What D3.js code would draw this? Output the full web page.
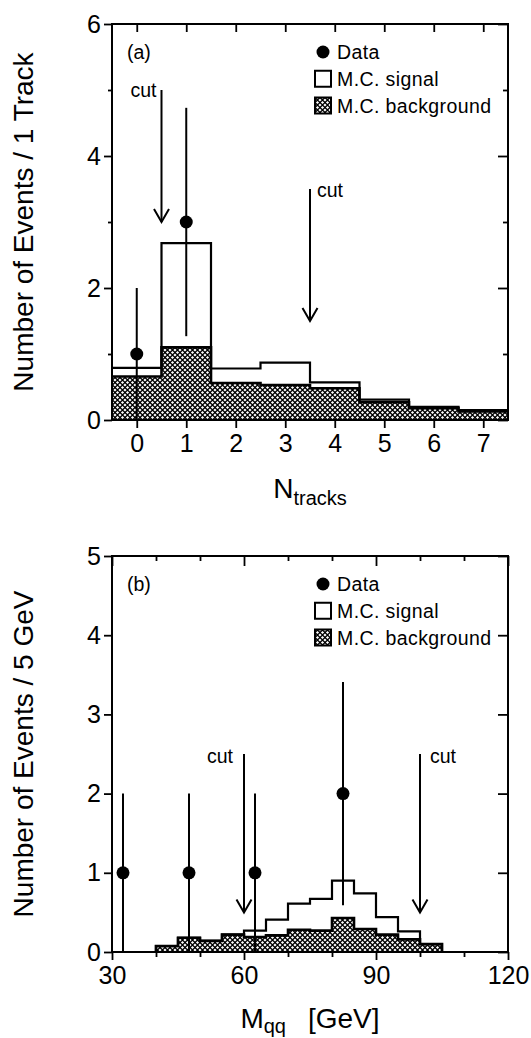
<!DOCTYPE html>
<html>
<head>
<meta charset="utf-8">
<script src="https://cdn.jsdelivr.net/npm/d3@7"></script>
<style>
  body { margin: 0; background: #fff; }
  text { font-family: "Liberation Sans", Arial, Helvetica, sans-serif; fill: #000; }
</style>
</head>
<body>
<div id="chart"></div>
<script>
// ---- panel (a): track multiplicity ----
const trkBins = [0, 1, 2, 3, 4, 5, 6, 7];
const trkSignal = [0.79, 2.68, 0.78, 0.87, 0.57, 0.31, 0.20, 0.15];     // MC signal stacked on background
const trkBackground = [0.66, 1.10, 0.56, 0.53, 0.48, 0.27, 0.18, 0.13];
const trkDataX = [0, 1];
const trkDataY = [1, 3];
const trkErrLo = [0, 1.27];
const trkErrHi = [2, 4.73];
const trkCuts = [0.5, 3.5];
const trkCutFrom = [5.0, 3.5];
const trkCutTo = [3.0, 1.5];

// ---- panel (b): di-jet mass, 5 GeV bins ----
const massBins = [40, 45, 50, 55, 60, 65, 70, 75, 80, 85, 90, 95, 100];
const massSignal = [0.075, 0.18, 0.14, 0.22, 0.27, 0.41, 0.61, 0.67, 0.90, 0.74, 0.44, 0.26, 0.10];
const massBackground = [0.075, 0.18, 0.14, 0.22, 0.19, 0.21, 0.28, 0.27, 0.43, 0.29, 0.22, 0.16, 0.10];
const massDataX = [32.5, 47.5, 62.5, 82.5];
const massDataY = [1, 1, 1, 2];
const massErrLo = [0, 0, 0, 0.59];
const massErrHi = [2, 2, 2, 3.41];
const massCuts = [60, 100];
const massCutFrom = [2.5, 2.5];
const massCutTo = [0.5, 0.5];

const legendLabels = ["Data", "M.C. signal", "M.C. background"];

const W = 531, H = 1038;
const left = 112, right = 508;

const svg = d3.select("#chart").append("svg")
  .attr("width", W).attr("height", H);

svg.append("rect").attr("width", W).attr("height", H).attr("fill", "#fff");

// cross-hatch: black with white diamond holes
const defs = svg.append("defs");
const pat = defs.append("pattern")
  .attr("id", "hatch")
  .attr("patternUnits", "userSpaceOnUse")
  .attr("width", 5).attr("height", 5);
pat.append("rect").attr("width", 5).attr("height", 5).attr("fill", "#000");
[[0, 0], [5, 0], [0, 5], [5, 5], [2.5, 2.5]].forEach(([cx, cy]) => {
  pat.append("path")
    .attr("d", `M${cx},${cy - 1.6}L${cx + 1.6},${cy}L${cx},${cy + 1.6}L${cx - 1.6},${cy}Z`)
    .attr("fill", "#fff");
});

function steps(lo, width, vals, closed) {
  const pts = [];
  if (closed) pts.push([lo[0], 0]);
  lo.forEach((e, i) => {
    pts.push([e, vals[i]]);
    pts.push([e + width, vals[i]]);
  });
  if (closed) pts.push([lo[lo.length - 1] + width, 0]);
  return pts;
}

function drawPanel(cfg) {
  const g = svg.append("g");
  const x = d3.scaleLinear().domain(cfg.xDomain).range([left, right]);
  const y = d3.scaleLinear().domain(cfg.yDomain).range([cfg.bottom, cfg.top]);

  const binLo = cfg.binLo;
  const bgPts = steps(binLo, cfg.binWidth, cfg.background, cfg.closed);
  const sigPts = steps(binLo, cfg.binWidth, cfg.signal, cfg.closed);

  g.append("path")
    .datum(bgPts)
    .attr("fill", "url(#hatch)")
    .attr("d", d3.area().x(d => x(d[0])).y0(y(0)).y1(d => y(d[1])));

  g.append("path")
    .datum(bgPts)
    .attr("fill", "none").attr("stroke", "#000").attr("stroke-width", 2.6)
    .attr("d", d3.line().x(d => x(d[0])).y(d => y(d[1])));

  g.append("path")
    .datum(sigPts)
    .attr("fill", "none").attr("stroke", "#000").attr("stroke-width", 2.2)
    .attr("d", d3.line().x(d => x(d[0])).y(d => y(d[1])));

  // error bars and points
  cfg.dataX.forEach((dx, i) => {
    g.append("line")
      .attr("x1", x(dx)).attr("x2", x(dx))
      .attr("y1", y(cfg.errLo[i])).attr("y2", y(cfg.errHi[i]))
      .attr("stroke", "#000").attr("stroke-width", 2);
    g.append("circle")
      .attr("cx", x(dx)).attr("cy", y(cfg.dataY[i])).attr("r", 6.5)
      .attr("fill", "#000");
  });

  // cut arrows
  cfg.cuts.forEach((c, i) => {
    const ax = x(c), y0 = y(cfg.cutFrom[i]), y1 = y(cfg.cutTo[i]);
    g.append("line")
      .attr("x1", ax).attr("x2", ax).attr("y1", y0).attr("y2", y1)
      .attr("stroke", "#000").attr("stroke-width", 2);
    g.append("path")
      .attr("d", `M${ax - 7.5},${y1 - 13}L${ax},${y1}L${ax + 7.5},${y1 - 13}`)
      .attr("fill", "none").attr("stroke", "#000").attr("stroke-width", 2);
    const lab = cfg.cutLabels[i];
    g.append("text")
      .attr("x", ax + lab.dx).attr("y", y(cfg.cutFrom[i]) + lab.dy)
      .attr("text-anchor", lab.anchor)
      .attr("font-size", 19.5)
      .text("cut");
  });

  // frame
  g.append("rect")
    .attr("x", left).attr("y", cfg.top)
    .attr("width", right - left).attr("height", cfg.bottom - cfg.top)
    .attr("fill", "none").attr("stroke", "#000").attr("stroke-width", 2);

  // axes
  const tickStyle = sel => {
    sel.select(".domain").remove();
    sel.selectAll(".tick line").attr("stroke", "#000").attr("stroke-width", 1.8);
  };

  g.append("g").attr("transform", `translate(0,${cfg.bottom})`)
    .call(d3.axisBottom(x).tickValues(cfg.xTicks).tickSize(8).tickPadding(6).tickFormat(d3.format("d")))
    .call(tickStyle)
    .call(s => s.selectAll("text").attr("font-size", 25).attr("font-family", "Liberation Sans, Arial, sans-serif"));
  g.append("g").attr("transform", `translate(0,${cfg.bottom})`)
    .call(d3.axisBottom(x).tickValues(cfg.xMinor).tickSize(5).tickFormat(""))
    .call(tickStyle);
  g.append("g").attr("transform", `translate(0,${cfg.top})`)
    .call(d3.axisTop(x).tickValues(cfg.xTicks).tickSize(-cfg.xTopMajor).tickFormat(""))
    .call(tickStyle);
  g.append("g").attr("transform", `translate(0,${cfg.top})`)
    .call(d3.axisTop(x).tickValues(cfg.xMinor).tickSize(-5).tickFormat(""))
    .call(tickStyle);

  g.append("g").attr("transform", `translate(${left},0)`)
    .call(d3.axisLeft(y).tickValues(cfg.yTicks).tickSize(8).tickPadding(3).tickFormat(d3.format("d")))
    .call(tickStyle)
    .call(s => s.selectAll("text").attr("font-size", 25).attr("font-family", "Liberation Sans, Arial, sans-serif"));
  g.append("g").attr("transform", `translate(${left},0)`)
    .call(d3.axisLeft(y).tickValues(cfg.yMinor).tickSize(4).tickFormat(""))
    .call(tickStyle);
  g.append("g").attr("transform", `translate(${right},0)`)
    .call(d3.axisRight(y).tickValues(cfg.yTicks).tickSize(-10).tickFormat(""))
    .call(tickStyle);
  g.append("g").attr("transform", `translate(${right},0)`)
    .call(d3.axisRight(y).tickValues(cfg.yMinor).tickSize(-5).tickFormat(""))
    .call(tickStyle);

  // panel tag
  g.append("text")
    .attr("x", 127).attr("y", cfg.top + 35)
    .attr("font-size", 19.5)
    .text(cfg.tag);

  // legend
  const rowY = [28, 54.75, 81.5].map(v => cfg.top + v);
  g.append("circle").attr("cx", 323).attr("cy", rowY[0]).attr("r", 6.5).attr("fill", "#000");
  g.append("rect").attr("x", 315).attr("y", rowY[1] - 8).attr("width", 16).attr("height", 16)
    .attr("fill", "#fff").attr("stroke", "#000").attr("stroke-width", 2);
  g.append("rect").attr("x", 315).attr("y", rowY[2] - 8).attr("width", 16).attr("height", 16)
    .attr("fill", "url(#hatch)").attr("stroke", "#000").attr("stroke-width", 2);
  legendLabels.forEach((t, i) => {
    g.append("text")
      .attr("x", 337).attr("y", rowY[i] + 7)
      .attr("font-size", 19.5)
      .attr("letter-spacing", 0.4)
      .text(t);
  });

  // y title
  g.append("text")
    .attr("transform", `translate(33,${(cfg.top + cfg.bottom) / 2}) rotate(-90)`)
    .attr("text-anchor", "middle")
    .attr("font-size", 28)
    .text(cfg.yTitle);

  // x title
  const xt = g.append("text")
    .attr("x", (left + right) / 2).attr("y", cfg.bottom + cfg.xTitleDy)
    .attr("text-anchor", "middle")
    .attr("font-size", 28);
  xt.append("tspan").text(cfg.xTitle[0]);
  xt.append("tspan").attr("font-size", 20).attr("dy", cfg.subDy).text(cfg.xTitle[1]);
  if (cfg.xTitle[2]) {
    xt.append("tspan").attr("dy", -cfg.subDy).attr("dx", 22).text(cfg.xTitle[2]);
  }
}

drawPanel({
  top: 24, bottom: 420,
  xDomain: [-0.5, 7.5], yDomain: [0, 6],
  binLo: trkBins.map(b => b - 0.5), binWidth: 1, closed: false,
  signal: trkSignal, background: trkBackground,
  dataX: trkDataX, dataY: trkDataY, errLo: trkErrLo, errHi: trkErrHi,
  cuts: trkCuts, cutFrom: trkCutFrom, cutTo: trkCutTo,
  cutLabels: [{ dx: -5, dy: 7, anchor: "end" }, { dx: 7, dy: 8, anchor: "start" }],
  xTicks: trkBins, xMinor: [], xTopMajor: 8,
  yTicks: [0, 2, 4, 6], yMinor: [1, 3, 5],
  tag: "(a)",
  yTitle: "Number of Events / 1 Track",
  xTitle: ["N", "tracks"], xTitleDy: 78, subDy: 7
});

drawPanel({
  top: 556, bottom: 952,
  xDomain: [30, 120], yDomain: [0, 5],
  binLo: massBins, binWidth: 5, closed: true,
  signal: massSignal, background: massBackground,
  dataX: massDataX, dataY: massDataY, errLo: massErrLo, errHi: massErrHi,
  cuts: massCuts, cutFrom: massCutFrom, cutTo: massCutTo,
  cutLabels: [{ dx: -11, dy: 9, anchor: "end" }, { dx: 10, dy: 9, anchor: "start" }],
  xTicks: [30, 60, 90, 120], xMinor: [40, 50, 70, 80, 100, 110], xTopMajor: 10,
  yTicks: [0, 1, 2, 3, 4, 5], yMinor: [],
  tag: "(b)",
  yTitle: "Number of Events / 5 GeV",
  xTitle: ["M", "qq", "[GeV]"], xTitleDy: 76, subDy: 5
});
</script>
</body>
</html>
